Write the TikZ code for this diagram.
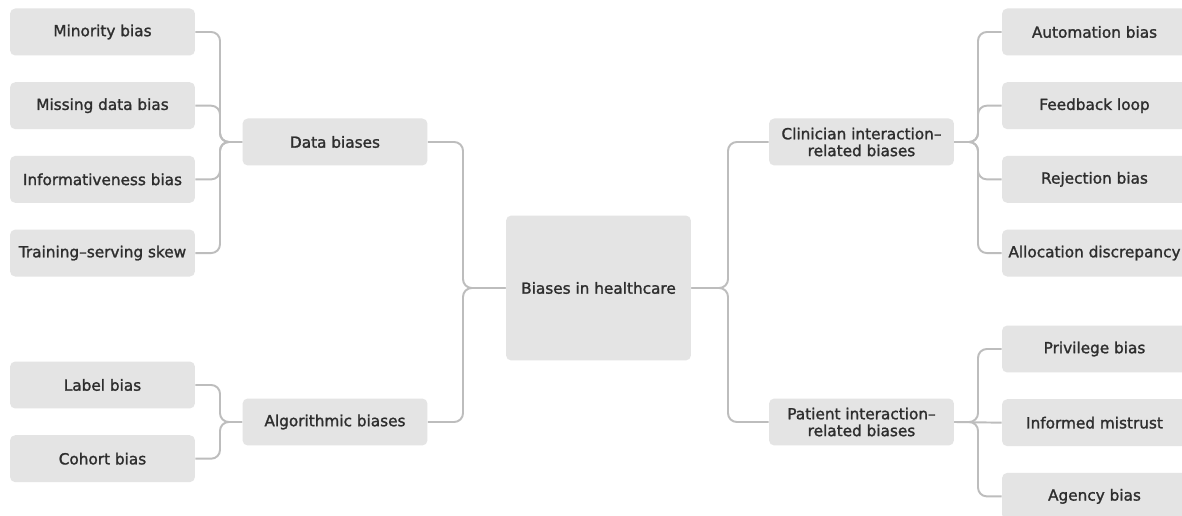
\documentclass[tikz,border=0pt]{standalone}
\usepackage{fontspec}
\newfontfamily\mapfont{DejaVu Sans}[FakeBold=1.5]
\usetikzlibrary{positioning, calc}
\definecolor{boxgrey}{HTML}{E4E4E4}
\definecolor{linegrey}{HTML}{BDBDBD}
\definecolor{textgrey}{HTML}{2E2E2E}
\tikzset{
    mindmap/.style={x=0.02cm, y=-0.02cm, font=\mapfont\fontsize{8.7}{9.6}\selectfont, text=textgrey},
    topic/.style={fill=boxgrey, rounded corners=3pt, minimum width=3.7cm, minimum height=0.94cm, align=center, inner sep=2pt},
    root/.style={topic, minimum height=2.9cm},
    link/.style={draw=linegrey, line width=1.1pt, rounded corners=5pt},
}
\begin{document}
\begin{tikzpicture}[mindmap]
    \useasboundingbox (0,0) rectangle (1182,516);
    \fill[white] (0,0) rectangle (1182,516);

    \node[root]                      (root)   at (598.5,288) {Biases in healthcare};

    % left branches
    \node[topic]                     (data)   at (335,142) {Data biases};
    \node[topic]                     (algo)   at (335,422) {Algorithmic biases};
    \node[topic]                     (minor)  at (102.5,32) {Minority bias};
    \node[topic, below=0.52cm of minor]  (miss)   {Missing data bias};
    \node[topic, below=0.52cm of miss]   (inform) {Informativeness bias};
    \node[topic, below=0.52cm of inform] (skew)   {Training\textendash serving skew};
    \node[topic]                     (label)  at (102.5,385) {Label bias};
    \node[topic, below=0.52cm of label]  (cohort) {Cohort bias};

    % right branches
    \node[topic]                     (clin)   at (861.5,142) {Clinician interaction\textendash\\related biases};
    \node[topic]                     (pat)    at (861.5,422) {Patient interaction\textendash\\related biases};
    \node[topic]                     (auto)   at (1094.5,32) {Automation bias};
    \node[topic, below=0.52cm of auto]   (feed)   {Feedback loop};
    \node[topic, below=0.52cm of feed]   (reject) {Rejection bias};
    \node[topic, below=0.52cm of reject] (alloc)  {Allocation discrepancy};
    \node[topic]                     (priv)   at (1094.5,349) {Privilege bias};
    \node[topic, below=0.52cm of priv]   (mistr)  {Informed mistrust};
    \node[topic, below=0.52cm of mistr]  (agency) {Agency bias};

    % junctions
    \coordinate (jroot) at (463,288);
    \coordinate (jrootr) at (728,288);
    \coordinate (jdata) at (220,142);
    \coordinate (jalgo) at (220,422);
    \coordinate (jclin) at (978,142);
    \coordinate (jpat)  at (978,422);

    \draw[link] (data.east) -| (jroot) -- (root.west);
    \draw[link] (algo.east) -| (jroot) -- (root.west);
    \draw[link] (clin.west) -| (jrootr) -- (root.east);
    \draw[link] (pat.west)  -| (jrootr) -- (root.east);

    \foreach \leaf in {minor, miss, inform, skew}
        \draw[link] (\leaf.east) -| (jdata) -- (data.west);
    \foreach \leaf in {label, cohort}
        \draw[link] (\leaf.east) -| (jalgo) -- (algo.west);
    \foreach \leaf in {auto, feed, reject, alloc}
        \draw[link] (\leaf.west) -| (jclin) -- (clin.east);
    \foreach \leaf in {priv, agency}
        \draw[link] (\leaf.west) -| (jpat) -- (pat.east);
    \draw[link] (mistr.west) -- (pat.east);
\end{tikzpicture}
\end{document}
